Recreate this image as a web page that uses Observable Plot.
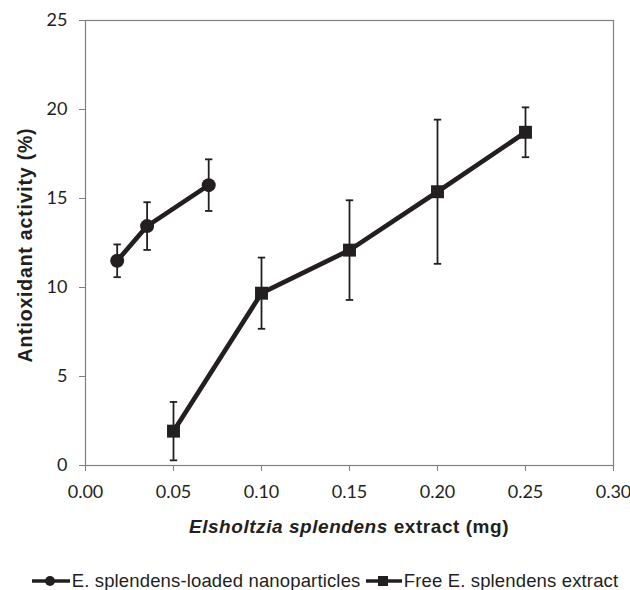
<!DOCTYPE html>
<html><head><meta charset="utf-8">
<script src="https://cdn.jsdelivr.net/npm/d3@7"></script>
<script src="https://cdn.jsdelivr.net/npm/@observablehq/plot@0.6"></script>
<style>
body{margin:0;background:#fff;}
#wrap{position:relative;width:630px;height:590px;overflow:hidden;background:#fff;}
#chart{position:absolute;left:0;top:0;}
#chart g[aria-label="x-axis tick"], #chart g[aria-label="y-axis tick"]{stroke:#808080;}
#chart g[aria-label="x-axis tick label"], #chart g[aria-label="y-axis tick label"]{font-size:18px;font-family:Lato,"Open Sans",sans-serif;}
#xtitle{position:absolute;left:85px;width:528px;top:516px;text-align:center;
  font-family:"Liberation Sans",Arial,sans-serif;font-weight:bold;font-size:19px;letter-spacing:0.55px;color:#231f20;white-space:nowrap;}
#ytitle{position:absolute;left:25px;top:245px;transform:translate(-50%,-50%) rotate(-90deg);
  font-family:"Liberation Sans",Arial,sans-serif;font-weight:bold;font-size:19.5px;letter-spacing:0.8px;color:#231f20;white-space:nowrap;}
#legend{position:absolute;left:0;width:650px;top:570px;text-align:center;
  font-family:"Liberation Sans",Arial,sans-serif;font-size:18.5px;letter-spacing:0.15px;color:#231f20;white-space:nowrap;}
#legend span.item{display:inline-flex;align-items:center;}
#legend svg{margin-right:2px;}
</style></head><body>
<div id="wrap">
  <div id="chart"></div>
  <div id="ytitle">Antioxidant activity (%)</div>
  <div id="xtitle"><i>Elsholtzia splendens</i> extract (mg)</div>
  <div id="legend"></div>
</div>
<script>
// Series names
const seriesNames = ["E. splendens-loaded nanoparticles", "Free E. splendens extract"];
// Nanoparticles series
const nanoX = [0.018, 0.035, 0.07];
const nanoY = [11.5, 13.45, 15.75];
const nanoErr = [0.92, 1.34, 1.45];
// Free extract series
const freeX = [0.05, 0.10, 0.15, 0.20, 0.25];
const freeY = [1.93, 9.68, 12.1, 15.38, 18.72];
const freeErr = [1.64, 2.0, 2.8, 4.05, 1.4];
// Axis ticks
const xTicks = [0, 0.05, 0.10, 0.15, 0.20, 0.25, 0.30];
const yTicks = [0, 5, 10, 15, 20, 25];

const ink = "#231f20";
const nano = nanoX.map((x, i) => ({x, y: nanoY[i], lo: nanoY[i] - nanoErr[i], hi: nanoY[i] + nanoErr[i]}));
const free = freeX.map((x, i) => ({x, y: freeY[i], lo: freeY[i] - freeErr[i], hi: freeY[i] + freeErr[i]}));
const all = nano.concat(free);

const cap = {draw(ctx, size) { const w = Math.sqrt(size / Math.PI); ctx.moveTo(-w, 0); ctx.lineTo(w, 0); }};

const chart = Plot.plot({
  width: 630,
  height: 505,
  marginTop: 20,
  marginBottom: 40,
  marginLeft: 85,
  marginRight: 17,
  style: {fontFamily: "Lato, sans-serif", fontSize: "18px", color: ink, background: "#fff"},
  x: {domain: [0, 0.30]},
  y: {domain: [0, 25]},
  marks: [
    Plot.frame({stroke: "#808080", strokeWidth: 1.2}),
    Plot.axisX({ticks: xTicks, tickFormat: d3.format(".2f"), tickSize: 6, tickPadding: 14, fontSize: 18, label: null}),
    Plot.axisY({ticks: yTicks, tickFormat: d3.format("d"), tickSize: 6, tickPadding: 12, fontSize: 18, label: null}),
    Plot.ruleX(all, {x: "x", y1: "lo", y2: "hi", stroke: ink, strokeWidth: 1.8}),
    Plot.dot(all, {x: "x", y: "lo", symbol: cap, r: 3.7, stroke: ink, fill: "none", strokeWidth: 1.8}),
    Plot.dot(all, {x: "x", y: "hi", symbol: cap, r: 3.7, stroke: ink, fill: "none", strokeWidth: 1.8}),
    Plot.line(nano, {x: "x", y: "y", stroke: ink, strokeWidth: 4.7}),
    Plot.line(free, {x: "x", y: "y", stroke: ink, strokeWidth: 4.7}),
    Plot.dot(nano, {x: "x", y: "y", symbol: "circle", r: 7, fill: ink}),
    Plot.dot(free, {x: "x", y: "y", symbol: "square", r: 7.3, fill: ink})
  ]
});
document.getElementById("chart").appendChild(chart);

const legend = document.getElementById("legend");
const swatches = [
  `<svg width="38" height="14"><line x1="0" y1="7" x2="38" y2="7" stroke="${ink}" stroke-width="3.5"/><circle cx="18" cy="7" r="5" fill="${ink}"/></svg>`,
  `<svg width="36" height="14"><line x1="0" y1="7" x2="36" y2="7" stroke="${ink}" stroke-width="3.5"/><rect x="12" y="2" width="10" height="10" fill="${ink}"/></svg>`
];
legend.innerHTML = seriesNames.map((n, i) => `<span class="item">${swatches[i]}${n}</span>`).join(" ");
</script>
</body></html>
